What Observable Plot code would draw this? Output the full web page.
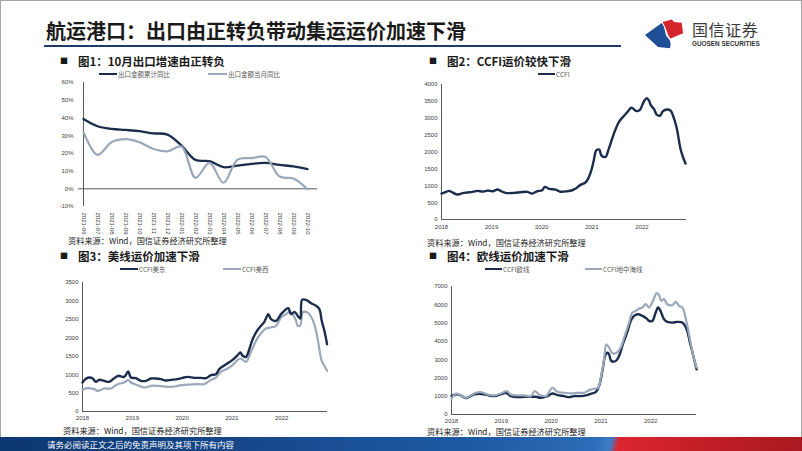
<!DOCTYPE html>
<html><head><meta charset="utf-8">
<script src="https://cdn.jsdelivr.net/npm/d3@7"></script>
<script src="https://cdn.jsdelivr.net/npm/@observablehq/plot@0.6"></script>
<style>
html,body{margin:0;padding:0;background:#fff;}
#slide{position:relative;width:802px;height:451px;overflow:hidden;background:#fff;font-family:"Noto Sans CJK SC","Noto Sans",sans-serif;}
.abs{position:absolute;white-space:nowrap;}
.frameb{left:0;top:0;width:802px;height:451px;box-sizing:border-box;border:1px solid #a6a6a6;}
.title{left:46px;top:18px;font-size:20px;font-weight:700;color:#1a1a1a;line-height:26px;}
.uline{left:44px;top:45px;width:577px;height:2px;background:#1f3a6b;}
.head{font-size:11.5px;font-weight:700;color:#1a1a1a;line-height:14px;}
.sq{font-size:8px;font-weight:400;color:#1a1a1a;line-height:14px;}
.src{font-size:8.2px;color:#222;line-height:10px;}
.leg{font-size:6.5px;color:#595959;line-height:8px;display:flex;align-items:center;}
.sw{display:inline-block;height:2px;margin-right:1px;}
.chart{position:absolute;}
.footer{left:0;top:437px;width:802px;height:14px;background:linear-gradient(102deg,#0c3770 0%,#174a8e 35%,#1f5aa6 60%,#2d6cb8 74%,#3c7dc8 76%,#dc2530 77%,#c21e27 88%,#a8191f 100%);}
.ftext{left:47px;top:439px;font-size:8.5px;color:#fff;line-height:10px;}
.logo1{left:692px;top:20px;font-size:16px;color:#3a3a3a;line-height:18px;letter-spacing:0.6px;}
.logo2{left:692px;top:40px;font-size:6.4px;font-weight:700;color:#333;line-height:8px;font-family:"Liberation Sans",Arial,sans-serif;}
</style></head>
<body><div id="slide"></div>
<script>
// ---------- data ----------
const months = ["2021-06","2021-07","2021-08","2021-09","2021-10","2021-11","2021-12","2022-01","2022-02","2022-03","2022-04","2022-05","2022-06","2022-07","2022-08","2022-09","2022-10"];
const exportCumYoY = [39.4,35.3,33.8,33.2,32.5,31.3,30.6,24.4,16.3,15.6,12.2,13.1,14.1,14.6,13.5,12.6,11.1];
const exportMonYoY = [32.0,19.1,26.3,28.0,26.3,22.5,21.2,23.8,6.2,14.6,3.4,16.5,17.3,18.0,6.9,5.8,-0.3];
const pctTicks = [-10,0,10,20,30,40,50,60];

const yearTicks = [2018,2019,2020,2021,2022];

const ccfiT = [2018.00,2018.09,2018.15,2018.20,2018.31,2018.39,2018.49,2018.62,2018.72,2018.82,2018.92,
  2019.02,2019.12,2019.18,2019.28,2019.45,2019.58,2019.71,2019.81,2019.91,
  2020.01,2020.06,2020.15,2020.28,2020.36,2020.51,2020.61,2020.68,2020.78,2020.86,2020.91,2020.99,
  2021.04,2021.09,2021.15,2021.19,2021.27,2021.34,2021.44,2021.54,2021.63,2021.71,2021.79,2021.89,2021.96,
  2022.04,2022.10,2022.14,2022.18,2022.25,2022.29,2022.36,2022.42,2022.50,2022.57,2022.62,2022.69,2022.77,2022.82,2022.87];
const ccfiV = [768,818,847,818,739,768,798,818,847,827,857,
  837,887,847,788,788,808,818,768,837,
  867,965,906,887,827,837,867,916,1034,1084,1163,1458,
  1754,2049,2069,1901,1852,2098,2542,2887,3054,3182,3310,3212,3251,
  3497,3596,3527,3379,3251,3113,3074,3212,3261,3231,3083,2739,2098,1852,1655];
const ccfiTicks = [0,500,1000,1500,2000,2500,3000,3500,4000];

const usEastT = [2018.000,2018.054,2018.134,2018.201,2018.268,2018.335,2018.436,2018.536,2018.637,2018.717,
  2018.838,2018.918,2018.972,2019.072,2019.173,2019.273,2019.374,2019.474,2019.575,2019.675,
  2019.776,2019.910,2020.010,2020.111,2020.245,2020.379,2020.479,2020.580,2020.680,2020.747,
  2020.814,2020.915,2021.015,2021.116,2021.169,2021.216,2021.283,2021.350,2021.417,2021.504,
  2021.585,2021.652,2021.732,2021.786,2021.886,2021.987,2022.087,2022.134,2022.188,2022.255,
  2022.322,2022.375,2022.409,2022.489,2022.590,2022.690,2022.757,2022.804,2022.858,2022.911];
const usEastV = [787,877,922,904,805,859,832,805,904,968,
  940,1085,922,904,832,832,895,895,877,841,
  859,877,913,940,913,913,904,986,1013,1149,
  1221,1311,1402,1528,1601,1510,1483,1691,1963,2189,
  2324,2433,2641,2505,2460,2641,2776,2804,2641,2704,
  2596,2523,3030,3030,2939,2867,2776,2460,2189,1827];
const usWestT = [2018.000,2018.101,2018.235,2018.302,2018.436,2018.570,2018.704,2018.838,2018.918,2018.972,
  2019.106,2019.240,2019.374,2019.508,2019.642,2019.776,2019.910,2020.044,2020.178,2020.312,
  2020.446,2020.546,2020.680,2020.781,2020.915,2021.015,2021.116,2021.183,2021.283,2021.384,
  2021.484,2021.585,2021.685,2021.772,2021.886,2021.987,2022.087,2022.154,2022.221,2022.288,
  2022.322,2022.375,2022.422,2022.489,2022.556,2022.623,2022.690,2022.757,2022.804,2022.858,2022.911];
const usWestV = [588,633,606,561,624,624,742,787,859,787,
  714,651,696,696,678,669,696,724,733,742,
  742,832,922,1076,1167,1257,1402,1438,1348,1619,
  1917,2125,2252,2279,2324,2550,2641,2704,2641,2460,
  2324,2342,2686,2704,2641,2487,2189,1691,1375,1239,1103];
const usTicks = [0,500,1000,1500,2000,2500,3000,3500];

const euT = [2018.000,2018.087,2018.187,2018.288,2018.355,2018.455,2018.555,2018.656,2018.756,2018.856,
  2018.990,2019.090,2019.191,2019.324,2019.458,2019.592,2019.692,2019.793,2019.926,2020.027,
  2020.127,2020.261,2020.361,2020.462,2020.595,2020.696,2020.796,2020.896,2020.963,2021.030,
  2021.084,2021.130,2021.164,2021.211,2021.298,2021.365,2021.452,2021.532,2021.599,2021.666,
  2021.746,2021.833,2021.920,2021.967,2022.033,2022.100,2022.147,2022.187,2022.268,2022.334,
  2022.435,2022.535,2022.635,2022.722,2022.789,2022.856,2022.923];
const euV = [1005,1097,1042,896,969,1097,1133,1097,1042,1005,
  1097,1188,1005,950,969,969,969,914,1005,1151,
  1060,1005,950,1005,1005,1042,1133,1225,1554,2376,
  3198,3381,3290,2924,2924,3198,3930,4514,5118,5392,
  5483,5392,5245,5118,5118,5575,5849,5721,5209,5063,
  5026,5063,5026,4661,3930,3198,2467];
const medT = [2018.000,2018.087,2018.187,2018.288,2018.388,2018.488,2018.589,2018.722,2018.856,2018.990,
  2019.110,2019.191,2019.324,2019.458,2019.592,2019.672,2019.759,2019.893,2020.027,2020.127,
  2020.261,2020.395,2020.528,2020.662,2020.763,2020.863,2020.943,2020.997,2021.064,2021.110,
  2021.164,2021.231,2021.318,2021.398,2021.478,2021.565,2021.632,2021.699,2021.766,2021.833,
  2021.900,2021.967,2022.054,2022.120,2022.167,2022.214,2022.268,2022.334,2022.435,2022.502,
  2022.569,2022.635,2022.722,2022.789,2022.856,2022.923];
const medV = [859,1133,1060,914,1042,1188,1225,1097,1042,1151,
  1279,1097,1042,1042,1005,1279,1097,1005,1462,1243,
  1188,1151,1188,1188,1334,1407,1462,2011,3016,3838,
  3655,3345,3381,3655,4295,5026,5575,5666,5794,5849,
  6031,5849,6269,6634,6525,6214,6306,6031,5977,6159,
  5940,5849,5026,4112,3198,2559];
const euTicks = [0,1000,2000,3000,4000,5000,6000,7000];

// ---------- styles ----------
const DARK = "#1b2c4c", LIGHT = "#9aa8ba", AXIS = "#595959";
const plotStyle = {fontFamily: "'Liberation Sans', Arial, sans-serif", fontSize: "6px", color: "#404040", background: "transparent", overflow: "visible"};
const plain = d => String(d);
const slide = document.getElementById("slide");

function add(cls, left, top, html) {
  const d = document.createElement("div");
  d.className = "abs " + cls;
  if (left != null) d.style.left = left + "px";
  if (top != null) d.style.top = top + "px";
  d.innerHTML = html;
  slide.appendChild(d);
  return d;
}
function place(svg, left, top, w) {
  const d = document.createElement("div");
  d.className = "chart";
  d.style.left = left + "px"; d.style.top = top + "px"; d.style.width = w + "px";
  d.appendChild(svg);
  slide.appendChild(d);
}
const zipTV = (t, v) => t.map((x, i) => ({x, y: v[i]}));

// ---------- chart 1 ----------
const c1 = months.map((m, i) => ({m, cum: exportCumYoY[i], mon: exportMonYoY[i]}));
place(Plot.plot({
  width: 300, height: 166, marginLeft: 48, marginRight: 13, marginTop: 12, marginBottom: 30, insetRight: 6,
  style: plotStyle,
  x: {type: "point", domain: months, padding: 0, tickRotate: 90, tickSize: 0, tickPadding: 6, label: null},
  y: {domain: [-10, 60], ticks: pctTicks, tickFormat: d => d + "%", tickSize: 0, tickPadding: 5, label: null},
  marks: [
    Plot.ruleX([months[0]], {stroke: AXIS}),
    Plot.ruleY([0], {stroke: AXIS}),
    Plot.line(c1, {x: "m", y: "cum", stroke: DARK, strokeWidth: 2.3, curve: "catmull-rom"}),
    Plot.line(c1, {x: "m", y: "mon", stroke: LIGHT, strokeWidth: 2.2, curve: "catmull-rom"})
  ]
}), 30, 70, 300);

// ---------- chart 2 ----------
place(Plot.plot({
  width: 400, height: 160, marginLeft: 41, marginRight: 114, marginTop: 8, marginBottom: 17,
  style: plotStyle,
  x: {domain: [2018, 2022.89], ticks: yearTicks, tickFormat: plain, tickSize: 0, tickPadding: 5, label: null},
  y: {domain: [0, 4000], ticks: ccfiTicks, tickFormat: plain, tickSize: 0, tickPadding: 4, label: null},
  marks: [
    Plot.ruleX([2018], {stroke: AXIS}),
    Plot.ruleY([0], {stroke: AXIS}),
    Plot.line(zipTV(ccfiT, ccfiV), {x: "x", y: "y", stroke: DARK, strokeWidth: 2.4, curve: "catmull-rom"})
  ]
}), 400, 76, 400);

// ---------- chart 3 ----------
place(Plot.plot({
  width: 317, height: 151, marginLeft: 52, marginRight: 20, marginTop: 8, marginBottom: 14,
  style: plotStyle,
  x: {domain: [2018, 2022.92], ticks: yearTicks, tickFormat: plain, tickSize: 0, tickPadding: 4, label: null},
  y: {domain: [0, 3500], ticks: usTicks, tickFormat: plain, tickSize: 0, tickPadding: 4, label: null},
  marks: [
    Plot.ruleX([2018], {stroke: AXIS}),
    Plot.ruleY([0], {stroke: AXIS}),
    Plot.line(zipTV(usWestT, usWestV), {x: "x", y: "y", stroke: LIGHT, strokeWidth: 2.2, curve: "catmull-rom"}),
    Plot.line(zipTV(usEastT, usEastV), {x: "x", y: "y", stroke: DARK, strokeWidth: 2.4, curve: "catmull-rom"})
  ]
}), 30, 274, 317);

// ---------- chart 4 ----------
place(Plot.plot({
  width: 400, height: 150, marginLeft: 51, marginRight: 104, marginTop: 8, marginBottom: 14,
  style: plotStyle,
  x: {domain: [2018, 2022.92], ticks: yearTicks, tickFormat: plain, tickSize: 0, tickPadding: 4, label: null},
  y: {domain: [0, 7000], ticks: euTicks, tickFormat: plain, tickSize: 0, tickPadding: 4, label: null},
  marks: [
    Plot.ruleX([2018], {stroke: AXIS}),
    Plot.ruleY([0], {stroke: AXIS}),
    Plot.line(zipTV(euT, euV), {x: "x", y: "y", stroke: DARK, strokeWidth: 2.4, curve: "catmull-rom"}),
    Plot.line(zipTV(medT, medV), {x: "x", y: "y", stroke: LIGHT, strokeWidth: 2.2, curve: "catmull-rom"})
  ]
}), 400, 278, 400);

// ---------- header / text ----------
add("frameb", null, null, "");
add("title", null, null, "航运港口：出口由正转负带动集运运价加速下滑");
add("uline", null, null, "");
add("", 640, 14, '<svg width="50" height="40"><path d="M5,21 L21.7,9 C26,14 24,20 28,24 C31,27 31,30 30,34.3 L18,33 Z" fill="#1e4f96"/><path d="M22.5,8 L31.7,5.5 L34,8 L41.7,8.8 L43,19.3 L30.5,24.5 C27,21 27,15 22.5,8 Z" fill="#d5232c"/></svg>');
add("logo1", null, null, "国信证券");
add("logo2", null, null, "GUOSEN SECURITIES");

const heads = [
  [60, 53.5, 78, "图1：10月出口增速由正转负"],
  [429, 53.5, 447, "图2：CCFI运价较快下滑"],
  [60, 249, 78, "图3：美线运价加速下滑"],
  [429, 249, 447, "图4：欧线运价加速下滑"]
];
heads.forEach(([sx, y, tx, t]) => { add("sq", sx, y, "■"); add("head", tx, y, t); });

const srcText = "资料来源：Wind，国信证券经济研究所整理";
[[68, 235], [427, 236.5], [63, 425], [427, 425.5]].forEach(([x, y]) => add("src", x, y, srcText));

function legend(x, y, w, color, label) {
  add("leg", x, y, `<span class="sw" style="width:${w}px;background:${color}"></span><span>${label}</span>`);
}
legend(99, 70, 18, DARK, "出口金额累计同比");
legend(208, 70, 19, LIGHT, "出口金额当月同比");
legend(538, 70, 17, DARK, "CCFI");
legend(120, 265, 18, DARK, "CCFI美东");
legend(223, 265, 18, LIGHT, "CCFI美西");
legend(485, 265, 17, DARK, "CCFI欧线");
legend(585, 265, 17, LIGHT, "CCFI地中海线");

add("footer", null, null, "");
add("ftext", null, null, "请务必阅读正文之后的免责声明及其项下所有内容");
</script>
</body></html>
